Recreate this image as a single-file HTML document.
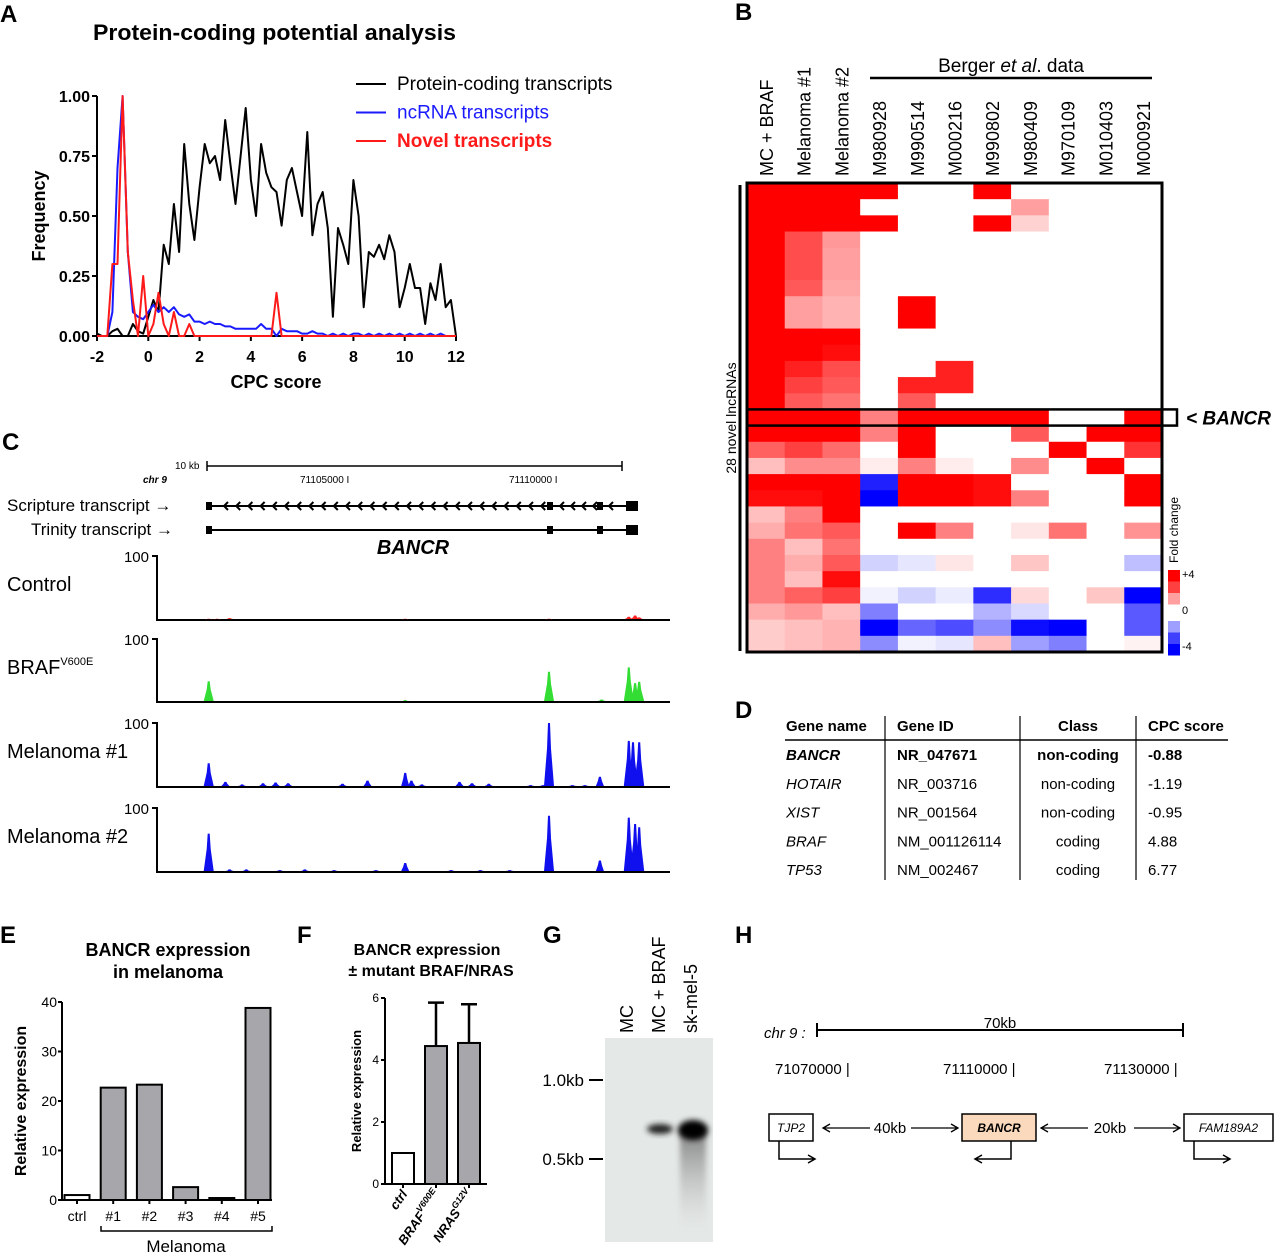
<!DOCTYPE html>
<html><head><meta charset="utf-8"><style>
html,body{margin:0;padding:0;background:#fff}
svg{display:block;font-family:"Liberation Sans",Arial,sans-serif}
</style></head><body>
<svg id="fig" width="1280" height="1254" viewBox="0 0 1280 1254" xmlns="http://www.w3.org/2000/svg">
<g font-weight="bold" font-size="24">
<text x="0" y="22">A</text>
<text x="735" y="20">B</text>
<text x="2" y="450">C</text>
<text x="735" y="718">D</text>
<text x="0" y="943">E</text>
<text x="297" y="943">F</text>
<text x="543" y="943">G</text>
<text x="735" y="943">H</text>
</g>
<g id="pa"></g>
<g id="pb"></g>
<g id="pc"></g>
<g id="pd"></g>
<g id="pe"></g>
<g id="pf"></g>
<g id="pg"></g>
<g id="ph"></g>
</svg>
<script>
// ---------- Panel A data ----------
const cpcX = [];
for (let i = 0; i <= 70; i++) cpcX.push(-2 + i * 0.2);
const proteinFreq = [0.01,0,0,0.02,0.03,0,0,0.05,0.02,0.01,0.08,0.15,0.1,0.38,0.3,0.55,0.35,0.8,0.55,0.4,0.62,0.8,0.72,0.75,0.65,0.9,0.72,0.55,0.75,0.95,0.65,0.5,0.8,0.68,0.62,0.6,0.46,0.65,0.7,0.6,0.5,0.85,0.42,0.55,0.6,0.45,0.08,0.45,0.38,0.3,0.65,0.5,0.12,0.35,0.33,0.38,0.32,0.42,0.35,0.12,0.2,0.3,0.2,0.2,0.05,0.22,0.15,0.3,0.12,0.15,0];
const ncrnaFreq = [0,0,0,0.1,0.7,1.0,0.35,0.1,0.08,0.07,0.1,0.13,0.1,0.12,0.1,0.12,0.09,0.08,0.09,0.06,0.06,0.05,0.06,0.05,0.05,0.04,0.04,0.03,0.03,0.03,0.03,0.03,0.05,0.03,0.03,0,0.03,0.02,0.02,0.02,0.01,0.01,0.02,0.01,0.01,0,0.01,0,0.01,0,0.01,0.01,0,0.01,0,0.01,0,0.01,0,0.01,0,0.01,0,0.01,0,0.01,0,0.01,0,0,0];
const novelFreq = [0,0,0,0.3,0.3,1.0,0.35,0.15,0,0.25,0,0.05,0.18,0.05,0,0.1,0,0,0.05,0,0,0,0,0,0,0,0,0,0,0,0,0,0,0,0,0.18,0,0,0,0,0,0,0,0,0,0,0,0,0,0,0,0,0,0,0,0,0,0,0,0,0,0,0,0,0,0,0,0,0,0,0];
const aXTicks = [-2,0,2,4,6,8,10,12];
const aYTicks = [0,0.25,0.5,0.75,1.0];
const aYLabels = ["0.00","0.25","0.50","0.75","1.00"];

// ---------- Panel B data ----------
const hmCols = ["MC + BRAF","Melanoma #1","Melanoma #2","M980928","M990514","M000216","M990802","M980409","M970109","M010403","M000921"];
const hmRows = [
[4,4,4,4,0,0,4,0,0,0,0],
[4,4,4,0,0,0,0,1.5,0,0,0],
[4,4,4,4,0,0,4,0.7,0,0,0],
[4,2.8,1.6,0,0,0,0,0,0,0,0],
[4,2.8,1.5,0,0,0,0,0,0,0,0],
[4,2.8,1.5,0,0,0,0,0,0,0,0],
[4,2.6,1.4,0,0,0,0,0,0,0,0],
[4,1.5,1.2,0,4,0,0,0,0,0,0],
[4,1.5,1.2,0,4,0,0,0,0,0,0],
[4,4,4,0,0,0,0,0,0,0,0],
[4,4,3.8,0,0,0,0,0,0,0,0],
[4,3.5,2.8,0,0,3.5,0,0,0,0,0],
[4,3,2.6,0,3.5,3.5,0,0,0,0,0],
[4,2.6,2.2,0,2.6,0,0,0,0,0,0],
[4,4,4,2,4,4,4,4,0,0,4],
[4,4,4,2,4,0,0,2.6,0,4,4],
[2.5,3,2.3,0,4,0,0,0,4,0,3.2],
[1,1.8,1.8,0.3,2,0.3,0,1.8,0,4,0],
[4,4,4,-3.5,4,4,3.8,0,0,0,4],
[3.8,3.8,4,-4,4,4,3.8,2,0,0,4],
[1,2,4,0,0,0,0,0,0,0,0],
[1.3,2.2,2.6,0,4,2,0,0.4,2.2,0,1.7],
[2,1,2.2,0,0,0,0,0,0,0,0],
[2,1.3,2.6,-0.7,-0.4,0.4,0,0.9,0,0,-1],
[2,1,3.8,0,0,0,0,0,0,0,0],
[2,2.5,3,-0.2,-0.7,-0.3,-3.3,0.6,0,0.9,-4],
[1.3,1.6,1,-2,0,0,-1.2,-0.6,0,0,-2.6],
[0.8,1,1.2,-4,-2.4,-2.8,-1.8,-3.8,-4,0,-2.6],
[0.8,1,1.2,-1.8,-0.2,-0.4,1,-1.5,-2,0,0.2]
];
const bancrRow = 14;
const legendVals = [4,3,1.5,0,-1.5,-3,-4];

// ---------- Panel C data (kb offset from 71,000,000; coverage 0-100) ----------
const controlPeaks = [[101.5,2],[101.7,2],[102.0,3],[106.2,2],[109.64,2],[111.55,5],[111.7,7],[111.8,4]];
const brafPeaks = [[101.5,33],[106.2,3],[109.64,48],[110.9,4],[111.55,55],[111.7,30],[111.8,32]];
const mel1Peaks = [[101.5,37],[101.9,8],[102.3,4],[102.8,6],[103.1,7],[103.4,6],[104.7,5],[105.3,10],[106.2,22],[106.35,10],[106.6,4],[107.5,8],[107.8,6],[108.2,5],[109.2,3],[109.5,3],[109.64,100],[110.2,3],[110.5,3],[110.86,16],[111.55,72],[111.65,70],[111.8,70]];
const mel2Peaks = [[101.5,60],[102.0,4],[102.4,4],[103.2,3],[103.8,4],[104.5,3],[105.5,3],[106.2,14],[107.3,3],[108.0,3],[108.7,3],[109.64,88],[110.86,18],[111.55,85],[111.7,75],[111.8,70]];
const trackMax = 100;

// ---------- Panel E data ----------
const eCats = ["ctrl","#1","#2","#3","#4","#5"];
const eVals = [1,22.7,23.3,2.6,0.4,38.8];
const eTicks = [0,10,20,30,40];
// ---------- Panel F data ----------
const fCats = ["ctrl","BRAF","NRAS"];
const fVals = [1.0,4.45,4.55];
const fErr = [0,1.4,1.25];
const fTicks = [0,2,4,6];

const NS="http://www.w3.org/2000/svg";
function mk(parent, tag, attrs, text){
  const e=document.createElementNS(NS,tag);
  for(const k in attrs) e.setAttribute(k,attrs[k]);
  if(text!==undefined) e.textContent=text;
  parent.appendChild(e); return e;
}

// ===== Panel A =====
(function(){
  const g=document.getElementById('pa');
  const x0=97,x1=456,yTop=96,yBot=336;
  const sx=v=>x0+(v+2)/14*(x1-x0);
  const sy=v=>yBot-v*(yBot-yTop);
  let t=mk(g,'text',{x:93,y:40,'font-size':22,'font-weight':'bold',textLength:363,lengthAdjust:'spacingAndGlyphs'},'Protein-coding potential analysis');
   
  let ax=mk(g,'path',{d:`M${x0} ${yTop}V${yBot}H${x1}`,stroke:'#000','stroke-width':2,fill:'none'});
   
  aYTicks.forEach((v,i)=>{
    let l=mk(g,'line',{x1:x0-5,x2:x0,y1:sy(v),y2:sy(v),stroke:'#000','stroke-width':2});
     
    let tx=mk(g,'text',{x:x0-7,y:sy(v)+6,'text-anchor':'end','font-size':16,'font-weight':'bold'},aYLabels[i]);
     
  });
  aXTicks.forEach(v=>{
    let l=mk(g,'line',{x1:sx(v),x2:sx(v),y1:yBot,y2:yBot+5,stroke:'#000','stroke-width':2});
     
    let tx=mk(g,'text',{x:sx(v),y:362,'text-anchor':'middle','font-size':16,'font-weight':'bold'},String(v));
     
  });
  t=mk(g,'text',{x:276,y:388,'text-anchor':'middle','font-size':18,'font-weight':'bold'},'CPC score');
   
  t=mk(g,'text',{x:0,y:0,'text-anchor':'middle','font-size':18,'font-weight':'bold',transform:'translate(45,216) rotate(-90)'},'Frequency');
   
  const series=[[proteinFreq,'#000','protein-coding-line'],[ncrnaFreq,'#1a1aff','ncrna-line'],[novelFreq,'#ff1a1a','novel-line']];
  series.forEach(s=>{
    const d=s[0].map((v,i)=>(i?'L':'M')+sx(cpcX[i]).toFixed(1)+' '+sy(v).toFixed(1)).join('');
    let p=mk(g,'path',{d:d,stroke:s[1],'stroke-width':2,fill:'none','stroke-linejoin':'round'});
     
  });
  const leg=[['Protein-coding transcripts','#000','normal'],['ncRNA transcripts','#1a1aff','normal'],['Novel transcripts','#ff1a1a','bold']];
  leg.forEach((L,i)=>{
    const y=84+i*28.5;
    let l=mk(g,'line',{x1:356,x2:386,y1:y,y2:y,stroke:L[1],'stroke-width':2});
     
    let tx=mk(g,'text',{x:397,y:y+6,'font-size':19,fill:L[1],'font-weight':L[2]},L[0]);
     
  });
})();

// ===== Panel B =====
(function(){
  const g=document.getElementById('pb');
  const x0=747,x1=1162,y0=183,y1=652;
  const cw=(x1-x0)/hmCols.length, rh=(y1-y0)/hmRows.length;
  const col=v=>{const t=Math.min(Math.abs(v)/4,1);const c=Math.round(255*(1-t));return v>=0?`rgb(255,${c},${c})`:`rgb(${c},${c},255)`;};
  hmRows.forEach((row,r)=>row.forEach((v,c)=>{
    let re=mk(g,'rect',{x:(x0+c*cw).toFixed(2),y:(y0+r*rh).toFixed(2),width:(cw+0.6).toFixed(2),height:(rh+0.6).toFixed(2),fill:col(v)});
     
  }));
  let b=mk(g,'rect',{x:x0,y:y0,width:x1-x0,height:y1-y0,fill:'none',stroke:'#000','stroke-width':3});
   
  b=mk(g,'rect',{x:x0,y:y0+bancrRow*rh,width:1177-x0,height:rh,fill:'none',stroke:'#000','stroke-width':2.5});
   
  let t=mk(g,'text',{x:1186,y:y0+bancrRow*rh+rh-1,'font-size':19,'font-weight':'bold','font-style':'italic'},'< BANCR');
   
  hmCols.forEach((n,c)=>{
    let tx=mk(g,'text',{x:0,y:0,'font-size':18,transform:`translate(${x0+c*cw+cw/2+7},176) rotate(-90)`},n);
     
  });
  t=mk(g,'text',{x:1011,y:72,'text-anchor':'middle','font-size':19},'');
   
  t.innerHTML='Berger <tspan font-style="italic">et al</tspan>. data';
  let l=mk(g,'line',{x1:870,x2:1152,y1:78,y2:78,stroke:'#000','stroke-width':2.5});
   
  l=mk(g,'line',{x1:740,x2:740,y1:185,y2:651,stroke:'#000','stroke-width':3});
   
  t=mk(g,'text',{x:0,y:0,'text-anchor':'middle','font-size':14,transform:'translate(736,418) rotate(-90)'},'28 novel lncRNAs');
   
  t=mk(g,'text',{x:0,y:0,'text-anchor':'middle','font-size':12,transform:'translate(1178,530) rotate(-90)'},'Fold change');
   
  const lh=11.5;
  legendVals.forEach((v,i)=>{
    const y=570+i*lh+(v<0?5:0);
    let r=mk(g,'rect',{x:1168,y:y,width:12,height:lh,fill:col(v)});
     
  });
  [['+4',578],['0',614],['-4',650]].forEach(a=>{
    let tx=mk(g,'text',{x:1182,y:a[1],'font-size':11},a[0]);
     
  });
})();

// ===== Panel C =====
(function(){
  const g=document.getElementById('pc');
  const sx=kb=>355+(kb-105)*41.8;
  let l=mk(g,'path',{d:'M207 461V471M207 466H622M622 461V471',stroke:'#000','stroke-width':1.5,fill:'none'});
   
  [['10 kb',175,469,10,'normal'],['chr 9',143,483,10,'italic'],['71105000 I',300,483,10,'normal'],['71110000 I',509,483,10,'normal']].forEach(a=>{
    let tx=mk(g,'text',{x:a[1],y:a[2],'font-size':a[3],'font-style':a[4],'font-weight':a[4]=='italic'?'bold':'normal'},a[0]);
     
  });
  [['Scripture transcript →',7,511],['Trinity transcript →',31,535]].forEach(a=>{
    let tx=mk(g,'text',{x:a[1],y:a[2],'font-size':17},a[0]);
     
  });
  [[506,'scripture-transcript'],[530,'trinity-transcript']].forEach((a,k)=>{
    const y=a[0];
    let gg=mk(g,'g',{});
     
    mk(gg,'line',{x1:208,x2:638,y1:y,y2:y,stroke:'#000','stroke-width':2});
    mk(gg,'rect',{x:206,y:y-4,width:6,height:8});
    mk(gg,'rect',{x:547,y:y-4,width:6,height:8});
    mk(gg,'rect',{x:597,y:y-4,width:6,height:8});
    mk(gg,'rect',{x:626,y:y-5,width:12,height:10});
    if(k===0){
      let d='';
      for(let x=224;x<545;x+=12.2) d+=`M${x+4} ${y-4}L${x} ${y}L${x+4} ${y+4}`;
      for(let x=560;x<595;x+=11) d+=`M${x+4} ${y-4}L${x} ${y}L${x+4} ${y+4}`;
      d+=`M${613} ${y-4}L${609} ${y}L${613} ${y+4}`;
      mk(gg,'path',{d:d,stroke:'#000','stroke-width':2,fill:'none'});
    }
  });
  let tx=mk(g,'text',{x:413,y:554,'text-anchor':'middle','font-size':20,'font-weight':'bold','font-style':'italic'},'BANCR');
   
  const tracks=[['Control',556,620,controlPeaks,'#ff2020','control-track'],['BRAF',639,702,brafPeaks,'#33dd33','braf-track'],['Melanoma #1',723,787,mel1Peaks,'#1010ee','melanoma-1-track'],['Melanoma #2',808,872,mel2Peaks,'#1010ee','melanoma-2-track']];
  tracks.forEach(T=>{
    const top=T[1],base=T[2];
    const gg=mk(g,'g',{});
     
    mk(gg,'path',{d:`M152 ${top}H157V${base}H670`,stroke:'#000','stroke-width':2,fill:'none'});
    mk(gg,'text',{x:149,y:top+6,'text-anchor':'end','font-size':15},'100');
    const lab=mk(gg,'text',{x:7,y:top+35,'font-size':20},T[0]);
    if(T[0]==='BRAF'){ mk(lab,'tspan',{'font-size':11,dy:-9},'V600E'); }
    T[3].forEach(p=>{
      const x=sx(p[0]), h=p[1]/trackMax*(base-top), w=p[1]>30?5:4;
      mk(gg,'path',{d:`M${(x-w).toFixed(1)} ${base-1}L${(x-2).toFixed(1)} ${(base-h*0.6).toFixed(1)}L${(x-1).toFixed(1)} ${(base-h).toFixed(1)}L${(x+1).toFixed(1)} ${(base-h).toFixed(1)}L${(x+2).toFixed(1)} ${(base-h*0.6).toFixed(1)}L${(x+w).toFixed(1)} ${base-1}Z`,fill:T[4]});
    });
  });
})();

// ===== Panel D =====
(function(){
  const g=document.getElementById('pd');
  const heads=[['Gene name',786,'start'],['Gene ID',897,'start'],['Class',1078,'middle'],['CPC score',1148,'start']];
  heads.forEach(h=>{
    let t=mk(g,'text',{x:h[1],y:731,'font-size':15,'font-weight':'bold','text-anchor':h[2]},h[0]);
     
  });
  let l=mk(g,'line',{x1:785,x2:1228,y1:740,y2:740,stroke:'#000','stroke-width':1.5});
   
  [885,1020,1136].forEach(x=>{
    let v=mk(g,'line',{x1:x,x2:x,y1:716,y2:880,stroke:'#000','stroke-width':1.2});
     
  });
  const rows=[['BANCR','NR_047671','non-coding','-0.88',true],['HOTAIR','NR_003716','non-coding','-1.19'],['XIST','NR_001564','non-coding','-0.95'],['BRAF','NM_001126114','coding','4.88'],['TP53','NM_002467','coding','6.77']];
  rows.forEach((r,i)=>{
    const y=760+i*28.8, fw=r[4]?'bold':'normal';
    let t=mk(g,'text',{x:786,y:y,'font-size':15,'font-style':'italic','font-weight':fw},r[0]);
     
    t=mk(g,'text',{x:897,y:y,'font-size':15,'font-weight':fw},r[1]);
     
    t=mk(g,'text',{x:1078,y:y,'font-size':15,'text-anchor':'middle','font-weight':fw},r[2]);
     
    t=mk(g,'text',{x:1148,y:y,'font-size':15,'font-weight':fw},r[3]);
     
  });
})();

// ===== Panel E =====
(function(){
  const g=document.getElementById('pe');
  const ax=62,yTop=1002,yBot=1200,max=40;
  const sy=v=>yBot-v/max*(yBot-yTop);
  [['BANCR expression',168,956],['in melanoma',168,978]].forEach(a=>{
    let t=mk(g,'text',{x:a[1],y:a[2],'text-anchor':'middle','font-size':18,'font-weight':'bold'},a[0]);
     
  });
  let a=mk(g,'path',{d:`M${ax} ${yTop}V${yBot}H272`,stroke:'#000','stroke-width':2,fill:'none'});
   
  eTicks.forEach(v=>{
    let l=mk(g,'line',{x1:ax-4,x2:ax,y1:sy(v),y2:sy(v),stroke:'#000','stroke-width':2});
     
    let t=mk(g,'text',{x:ax-5,y:sy(v)+5,'text-anchor':'end','font-size':14},String(v));
     
  });
  let t=mk(g,'text',{x:0,y:0,'text-anchor':'middle','font-size':16,'font-weight':'bold',transform:'translate(26,1101) rotate(-90)'},'Relative expression');
   
  const step=36.2;
  eCats.forEach((c,i)=>{
    const cx=77+i*step;
    let b=mk(g,'rect',{x:cx-12.5,y:sy(eVals[i]),width:25,height:yBot-sy(eVals[i]),fill:i?'#a7a7ab':'#fff',stroke:'#000','stroke-width':2});
     
    let l=mk(g,'line',{x1:cx,x2:cx,y1:yBot,y2:yBot+4,stroke:'#000','stroke-width':2});
     
    let tx=mk(g,'text',{x:cx,y:1221,'text-anchor':'middle','font-size':14},c);
     
  });
  let br=mk(g,'path',{d:'M101 1226V1231H272V1226',stroke:'#000','stroke-width':1.5,fill:'none'});
   
  t=mk(g,'text',{x:186,y:1252,'text-anchor':'middle','font-size':17},'Melanoma');
   
})();

// ===== Panel F =====
(function(){
  const g=document.getElementById('pf');
  const ax=385,yTop=998,yBot=1184,max=6;
  const sy=v=>yBot-v/max*(yBot-yTop);
  [['BANCR expression',427,955],['± mutant BRAF/NRAS',431,976]].forEach(a=>{
    let t=mk(g,'text',{x:a[1],y:a[2],'text-anchor':'middle','font-size':16,'font-weight':'bold'},a[0]);
     
  });
  let a=mk(g,'path',{d:`M${ax} ${yTop}V${yBot}H487`,stroke:'#000','stroke-width':2,fill:'none'});
   
  fTicks.forEach(v=>{
    let l=mk(g,'line',{x1:ax-4,x2:ax,y1:sy(v),y2:sy(v),stroke:'#000','stroke-width':2});
     
    let t=mk(g,'text',{x:ax-6,y:sy(v)+4,'text-anchor':'end','font-size':12},String(v));
     
  });
  let t=mk(g,'text',{x:0,y:0,'text-anchor':'middle','font-size':13,'font-weight':'bold',transform:'translate(361,1091) rotate(-90)'},'Relative expression');
   
  const sups=['','V600E','G12V'];
  fCats.forEach((c,i)=>{
    const cx=403+i*33;
    if(fErr[i]>0){
      let e=mk(g,'path',{d:`M${cx} ${sy(fVals[i])}V${sy(fVals[i]+fErr[i])}M${cx-8} ${sy(fVals[i]+fErr[i])}H${cx+8}`,stroke:'#000','stroke-width':2.5,fill:'none'});
       
    }
    let b=mk(g,'rect',{x:cx-11,y:sy(fVals[i]),width:22,height:yBot-sy(fVals[i]),fill:i?'#a7a7ab':'#fff',stroke:'#000','stroke-width':2});
     
    let l=mk(g,'line',{x1:cx,x2:cx,y1:yBot,y2:yBot+4,stroke:'#000','stroke-width':2});
     
    let tx=mk(g,'text',{x:0,y:0,'text-anchor':'end','font-size':13,'font-weight':'bold','font-style':'italic',transform:`translate(${cx+5},${yBot+10}) rotate(-55)`},c);
    if(sups[i]) mk(tx,'tspan',{'font-size':9,dy:-6},sups[i]);
     
  });
})();

// ===== Panel G =====
(function(){
  const g=document.getElementById('pg');
  const defs=mk(g,'defs',{});
  const f=mk(defs,'filter',{id:'blur',x:'-50%',y:'-50%',width:'200%',height:'200%'});
  mk(f,'feGaussianBlur',{stdDeviation:3});
  const lg=mk(defs,'linearGradient',{id:'smear',x1:0,y1:0,x2:0,y2:1});
  mk(lg,'stop',{offset:0,'stop-color':'#555','stop-opacity':0.7});
  mk(lg,'stop',{offset:1,'stop-color':'#bbb','stop-opacity':0});
  let r=mk(g,'rect',{x:605,y:1038,width:108,height:204,fill:'#e4e8e6'});
   
  let s=mk(g,'rect',{x:680,y:1130,width:26,height:100,fill:'url(#smear)',filter:'url(#blur)'});
   
  let b1=mk(g,'ellipse',{cx:660,cy:1129,rx:13,ry:5,fill:'#222',filter:'url(#blur)'});
   
  let b2=mk(g,'ellipse',{cx:693,cy:1130,rx:15,ry:10,fill:'#000',filter:'url(#blur)'});
   
  [['MC',633],['MC + BRAF',665],['sk-mel-5',697]].forEach(a=>{
    let t=mk(g,'text',{x:0,y:0,'font-size':18,transform:`translate(${a[1]},1033) rotate(-90)`},a[0]);
     
  });
  [['1.0kb',1086,1080],['0.5kb',1165,1159]].forEach(a=>{
    let t=mk(g,'text',{x:584,y:a[1],'text-anchor':'end','font-size':17},a[0]);
     
    let l=mk(g,'line',{x1:589,x2:603,y1:a[2],y2:a[2],stroke:'#000','stroke-width':2});
     
  });
})();

// ===== Panel H =====
(function(){
  const g=document.getElementById('ph');
  let t=mk(g,'text',{x:764,y:1038,'font-size':15,'font-style':'italic'},'chr 9 :');
   
  let l=mk(g,'path',{d:'M817 1023V1037M817 1030H1183M1183 1023V1037',stroke:'#000','stroke-width':2,fill:'none'});
   
  t=mk(g,'text',{x:1000,y:1028,'text-anchor':'middle','font-size':15},'70kb');
   
  [['71070000 |',775],['71110000 |',943],['71130000 |',1104]].forEach(a=>{
    let tx=mk(g,'text',{x:a[1],y:1074,'font-size':15},a[0]);
     
  });
  const boxes=[['TJP2',769,44,'#fff',1],['BANCR',962,74,'#fbd9bc',-1],['FAM189A2',1184,89,'#fff',1]];
  boxes.forEach(B=>{
    let r=mk(g,'rect',{x:B[1],y:1114,width:B[2],height:27,fill:B[3],stroke:'#000','stroke-width':1.5});
     
    let tx=mk(g,'text',{x:B[1]+B[2]/2,y:1132,'text-anchor':'middle','font-size':12,'font-style':'italic','font-weight':B[0]==='BANCR'?'bold':'normal'},B[0]);
     
    const sx=B[4]>0?B[1]+10:B[1]+B[2]/2+12, ex=sx+B[4]*36;
    let ar=mk(g,'path',{d:`M${sx} 1141V1159H${ex}M${ex-B[4]*7} 1155L${ex} 1159L${ex-B[4]*7} 1163`,stroke:'#000','stroke-width':1.5,fill:'none'});
     
  });
  [['40kb',890,823,870,911,958],['20kb',1110,1041,1088,1134,1180]].forEach(a=>{
    let tx=mk(g,'text',{x:a[1],y:1133,'text-anchor':'middle','font-size':15},a[0]);
     
    let p=mk(g,'path',{d:`M${a[3]} 1128H${a[2]}M${a[2]+7} 1124L${a[2]} 1128L${a[2]+7} 1132M${a[4]} 1128H${a[5]}M${a[5]-7} 1124L${a[5]} 1128L${a[5]-7} 1132`,stroke:'#000','stroke-width':1.3,fill:'none'});
     
  });
})();
</script>
</body></html>
